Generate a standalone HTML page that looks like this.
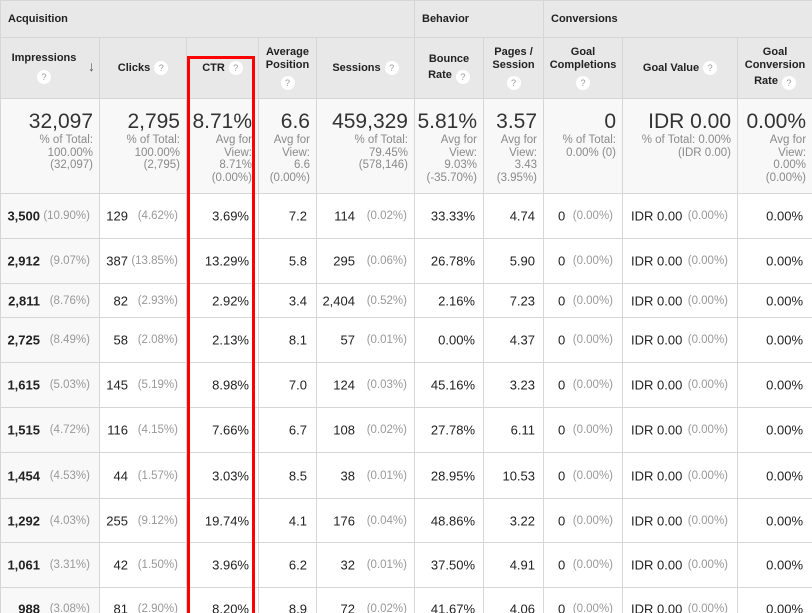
<!DOCTYPE html>
<html><head><meta charset="utf-8">
<style>
*{margin:0;padding:0;box-sizing:border-box}
html,body{width:812px;height:613px;overflow:hidden}
body{background:#fff;font-family:"Liberation Sans",Arial,sans-serif;color:#222;position:relative}
table{border-collapse:collapse;table-layout:fixed;position:absolute;left:0;top:0;width:812px}
td{border:1px solid #d6d6d6;position:relative;padding:0;vertical-align:top}
tr.h1 td{height:37px;background:#e8e8e8;font-weight:bold;font-size:11px;padding:12px 0 0 7px}
tr.h2 td{height:61px;background:#e8e8e8;font-weight:bold;font-size:11px;text-align:center;vertical-align:middle;line-height:13px}
tr.sm td{height:95px;background:#f8f8f8;text-align:right;padding:12px 6px 0 0;font-size:11.5px;color:#8a8a8a;line-height:12.6px}
tr.sm td b{display:block;font-weight:normal;font-size:21px;color:#333;line-height:22px;margin-bottom:1px}
tr.d td{font-size:13px;color:#222}
tr.d td.c1{background:#f8f8f8}
.q{display:inline-block;width:14px;height:14px;border-radius:50%;background:#fff;color:#999;font-size:9px;font-weight:normal;line-height:14px;text-align:center;vertical-align:middle;margin-left:4px}
.a,.p{position:absolute;top:50%;transform:translateY(-50%);white-space:nowrap}
.p{color:#999;font-size:11.5px}
.c1 .a{right:59px;font-weight:bold}.c1 .p{right:9px}
.c2 .a{right:58px}.c2 .p{right:8px}
.c3 .a{right:9px}.c4 .a{right:9px}
.c5 .a{right:59px}.c5 .p{right:7px}
.c6 .a{right:8px}.c7 .a{right:8px}
.c8 .a{left:14px}.c8 .p{right:9px}
.c9 .a{left:8px}.c9 .p{right:9px}
.c10 .a{right:9px}
#box{position:absolute;left:187px;top:56px;width:68px;height:600px;border:3px solid #f00}
</style></head><body>
<table>
<colgroup><col style="width:99px"><col style="width:87px"><col style="width:72px"><col style="width:58px"><col style="width:98px"><col style="width:69px"><col style="width:60px"><col style="width:79px"><col style="width:115px"><col style="width:75px"></colgroup>
<tr class="h1"><td colspan="5">Acquisition</td><td colspan="2">Behavior</td><td colspan="3">Conversions</td></tr>
<tr class="h2">
<td style="padding-right:12px">Impressions<br><span class="q" style="margin:5px 0 0">?</span><span style="position:absolute;right:4px;top:22px;font-size:14px;color:#555">&#8595;</span></td>
<td>Clicks<span class="q">?</span></td>
<td>CTR<span class="q">?</span></td>
<td>Average<br>Position<br><span class="q" style="margin:4px 0 0">?</span></td>
<td>Sessions<span class="q">?</span></td>
<td>Bounce<br>Rate<span class="q" style="margin-top:4px">?</span></td>
<td>Pages /<br>Session<br><span class="q" style="margin:4px 0 0">?</span></td>
<td>Goal<br>Completions<br><span class="q" style="margin:4px 0 0">?</span></td>
<td>Goal Value<span class="q">?</span></td>
<td>Goal<br>Conversion<br>Rate<span class="q" style="margin-top:4px">?</span></td>
</tr>
<tr class="sm">
<td><b>32,097</b>% of Total:<br>100.00%<br>(32,097)</td>
<td><b>2,795</b>% of Total:<br>100.00%<br>(2,795)</td>
<td><b>8.71%</b>Avg for<br>View:<br>8.71%<br>(0.00%)</td>
<td><b>6.6</b>Avg for<br>View:<br>6.6<br>(0.00%)</td>
<td><b>459,329</b>% of Total:<br>79.45%<br>(578,146)</td>
<td><b>5.81%</b>Avg for<br>View:<br>9.03%<br>(-35.70%)</td>
<td><b>3.57</b>Avg for<br>View:<br>3.43<br>(3.95%)</td>
<td><b>0</b>% of Total:<br>0.00% (0)</td>
<td><b>IDR 0.00</b>% of Total: 0.00%<br>(IDR 0.00)</td>
<td><b>0.00%</b>Avg for<br>View:<br>0.00%<br>(0.00%)</td>
</tr>
<tr class="d" style="height:45px"><td class="c1"><span class="a">3,500</span><span class="p">(10.90%)</span></td><td class="c2"><span class="a">129</span><span class="p">(4.62%)</span></td><td class="c3"><span class="a">3.69%</span></td><td class="c4"><span class="a">7.2</span></td><td class="c5"><span class="a">114</span><span class="p">(0.02%)</span></td><td class="c6"><span class="a">33.33%</span></td><td class="c7"><span class="a">4.74</span></td><td class="c8"><span class="a">0</span><span class="p">(0.00%)</span></td><td class="c9"><span class="a">IDR 0.00</span><span class="p">(0.00%)</span></td><td class="c10"><span class="a">0.00%</span></td></tr>
<tr class="d" style="height:45px"><td class="c1"><span class="a">2,912</span><span class="p">(9.07%)</span></td><td class="c2"><span class="a">387</span><span class="p">(13.85%)</span></td><td class="c3"><span class="a">13.29%</span></td><td class="c4"><span class="a">5.8</span></td><td class="c5"><span class="a">295</span><span class="p">(0.06%)</span></td><td class="c6"><span class="a">26.78%</span></td><td class="c7"><span class="a">5.90</span></td><td class="c8"><span class="a">0</span><span class="p">(0.00%)</span></td><td class="c9"><span class="a">IDR 0.00</span><span class="p">(0.00%)</span></td><td class="c10"><span class="a">0.00%</span></td></tr>
<tr class="d" style="height:34px"><td class="c1"><span class="a">2,811</span><span class="p">(8.76%)</span></td><td class="c2"><span class="a">82</span><span class="p">(2.93%)</span></td><td class="c3"><span class="a">2.92%</span></td><td class="c4"><span class="a">3.4</span></td><td class="c5"><span class="a">2,404</span><span class="p">(0.52%)</span></td><td class="c6"><span class="a">2.16%</span></td><td class="c7"><span class="a">7.23</span></td><td class="c8"><span class="a">0</span><span class="p">(0.00%)</span></td><td class="c9"><span class="a">IDR 0.00</span><span class="p">(0.00%)</span></td><td class="c10"><span class="a">0.00%</span></td></tr>
<tr class="d" style="height:45px"><td class="c1"><span class="a">2,725</span><span class="p">(8.49%)</span></td><td class="c2"><span class="a">58</span><span class="p">(2.08%)</span></td><td class="c3"><span class="a">2.13%</span></td><td class="c4"><span class="a">8.1</span></td><td class="c5"><span class="a">57</span><span class="p">(0.01%)</span></td><td class="c6"><span class="a">0.00%</span></td><td class="c7"><span class="a">4.37</span></td><td class="c8"><span class="a">0</span><span class="p">(0.00%)</span></td><td class="c9"><span class="a">IDR 0.00</span><span class="p">(0.00%)</span></td><td class="c10"><span class="a">0.00%</span></td></tr>
<tr class="d" style="height:45px"><td class="c1"><span class="a">1,615</span><span class="p">(5.03%)</span></td><td class="c2"><span class="a">145</span><span class="p">(5.19%)</span></td><td class="c3"><span class="a">8.98%</span></td><td class="c4"><span class="a">7.0</span></td><td class="c5"><span class="a">124</span><span class="p">(0.03%)</span></td><td class="c6"><span class="a">45.16%</span></td><td class="c7"><span class="a">3.23</span></td><td class="c8"><span class="a">0</span><span class="p">(0.00%)</span></td><td class="c9"><span class="a">IDR 0.00</span><span class="p">(0.00%)</span></td><td class="c10"><span class="a">0.00%</span></td></tr>
<tr class="d" style="height:45px"><td class="c1"><span class="a">1,515</span><span class="p">(4.72%)</span></td><td class="c2"><span class="a">116</span><span class="p">(4.15%)</span></td><td class="c3"><span class="a">7.66%</span></td><td class="c4"><span class="a">6.7</span></td><td class="c5"><span class="a">108</span><span class="p">(0.02%)</span></td><td class="c6"><span class="a">27.78%</span></td><td class="c7"><span class="a">6.11</span></td><td class="c8"><span class="a">0</span><span class="p">(0.00%)</span></td><td class="c9"><span class="a">IDR 0.00</span><span class="p">(0.00%)</span></td><td class="c10"><span class="a">0.00%</span></td></tr>
<tr class="d" style="height:46px"><td class="c1"><span class="a">1,454</span><span class="p">(4.53%)</span></td><td class="c2"><span class="a">44</span><span class="p">(1.57%)</span></td><td class="c3"><span class="a">3.03%</span></td><td class="c4"><span class="a">8.5</span></td><td class="c5"><span class="a">38</span><span class="p">(0.01%)</span></td><td class="c6"><span class="a">28.95%</span></td><td class="c7"><span class="a">10.53</span></td><td class="c8"><span class="a">0</span><span class="p">(0.00%)</span></td><td class="c9"><span class="a">IDR 0.00</span><span class="p">(0.00%)</span></td><td class="c10"><span class="a">0.00%</span></td></tr>
<tr class="d" style="height:44px"><td class="c1"><span class="a">1,292</span><span class="p">(4.03%)</span></td><td class="c2"><span class="a">255</span><span class="p">(9.12%)</span></td><td class="c3"><span class="a">19.74%</span></td><td class="c4"><span class="a">4.1</span></td><td class="c5"><span class="a">176</span><span class="p">(0.04%)</span></td><td class="c6"><span class="a">48.86%</span></td><td class="c7"><span class="a">3.22</span></td><td class="c8"><span class="a">0</span><span class="p">(0.00%)</span></td><td class="c9"><span class="a">IDR 0.00</span><span class="p">(0.00%)</span></td><td class="c10"><span class="a">0.00%</span></td></tr>
<tr class="d" style="height:45px"><td class="c1"><span class="a">1,061</span><span class="p">(3.31%)</span></td><td class="c2"><span class="a">42</span><span class="p">(1.50%)</span></td><td class="c3"><span class="a">3.96%</span></td><td class="c4"><span class="a">6.2</span></td><td class="c5"><span class="a">32</span><span class="p">(0.01%)</span></td><td class="c6"><span class="a">37.50%</span></td><td class="c7"><span class="a">4.91</span></td><td class="c8"><span class="a">0</span><span class="p">(0.00%)</span></td><td class="c9"><span class="a">IDR 0.00</span><span class="p">(0.00%)</span></td><td class="c10"><span class="a">0.00%</span></td></tr>
<tr class="d" style="height:42px"><td class="c1"><span class="a">988</span><span class="p">(3.08%)</span></td><td class="c2"><span class="a">81</span><span class="p">(2.90%)</span></td><td class="c3"><span class="a">8.20%</span></td><td class="c4"><span class="a">8.9</span></td><td class="c5"><span class="a">72</span><span class="p">(0.02%)</span></td><td class="c6"><span class="a">41.67%</span></td><td class="c7"><span class="a">4.06</span></td><td class="c8"><span class="a">0</span><span class="p">(0.00%)</span></td><td class="c9"><span class="a">IDR 0.00</span><span class="p">(0.00%)</span></td><td class="c10"><span class="a">0.00%</span></td></tr>
</table>
<div id="box"></div>
</body></html>
